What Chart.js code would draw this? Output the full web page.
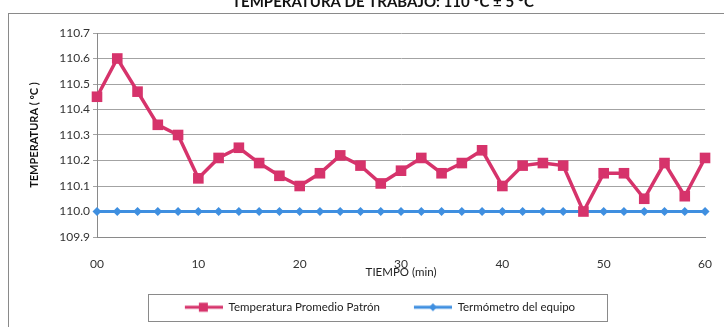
<!DOCTYPE html>
<html lang="es">
<head>
<meta charset="UTF-8" />
<title>Temperatura de trabajo</title>
<script src="https://cdn.jsdelivr.net/npm/chart.js"></script>
<style>
  html, body { margin: 0; padding: 0; background: #fff; }
</style>
</head>
<body>
<canvas id="grafico" width="724" height="327"></canvas>
<script>
// valores (cada 2 min)
const tiempo = [0, 2, 4, 6, 8, 10, 12, 14, 16, 18, 20, 22, 24, 26, 28, 30,
                32, 34, 36, 38, 40, 42, 44, 46, 48, 50, 52, 54, 56, 58, 60];
const patron = [110.45, 110.60, 110.47, 110.34, 110.30, 110.13, 110.21, 110.25, 110.19, 110.14, 110.10,
                110.15, 110.22, 110.18, 110.11, 110.16, 110.21, 110.15, 110.19, 110.24, 110.10,
                110.18, 110.19, 110.18, 110.00, 110.15, 110.15, 110.05, 110.19, 110.06, 110.21];
const equipo = [110.0, 110.0, 110.0, 110.0, 110.0, 110.0, 110.0, 110.0, 110.0, 110.0, 110.0,
                110.0, 110.0, 110.0, 110.0, 110.0, 110.0, 110.0, 110.0, 110.0, 110.0,
                110.0, 110.0, 110.0, 110.0, 110.0, 110.0, 110.0, 110.0, 110.0, 110.0];
const nombres = ['Temperatura Promedio Patrón', 'Termómetro del equipo'];
const titulo = 'TEMPERATURA DE TRABAJO: 110 °C ± 5 °C';
const tituloY = 'TEMPERATURA ( ºC )';
const tituloX = 'TIEMPO (min)';

const ROJO = '#d6336b';
const AZUL = '#3f8fe0';
const FUENTE = 'Lato, "DejaVu Sans", sans-serif';

// muestra de leyenda: linea con marcador
function muestra(color, forma) {
    const c = document.createElement('canvas');
    c.width = 62; c.height = 14;
    const g = c.getContext('2d');
    g.strokeStyle = color;
    g.lineWidth = 3;
    g.beginPath(); g.moveTo(24, 7); g.lineTo(62, 7); g.stroke();
    g.fillStyle = color;
    if (forma === 'rect') {
        g.fillRect(38, 2.5, 9, 9);
    } else {
        g.beginPath();
        g.moveTo(43, 3); g.lineTo(47, 7); g.lineTo(43, 11); g.lineTo(39, 7);
        g.closePath(); g.fill();
    }
    return c;
}
const muestras = [muestra(ROJO, 'rect'), muestra(AZUL, 'rectRot')];

// titulo cortado arriba, marco exterior y recuadro de la leyenda
const marco = {
    id: 'marco',
    beforeDraw(chart) {
        const ctx = chart.ctx;
        ctx.save();
        ctx.fillStyle = '#fff';
        ctx.fillRect(0, 0, chart.width, chart.height);
        ctx.strokeStyle = '#8a8a8a';
        ctx.lineWidth = 1;
        ctx.strokeRect(8.5, 13.5, chart.width + 20, chart.height + 20);
        ctx.fillStyle = '#111';
        ctx.font = 'bold 15px ' + FUENTE;
        ctx.textAlign = 'center';
        ctx.textBaseline = 'alphabetic';
        ctx.fillText(titulo, 383, 7);
        ctx.restore();
    },
    afterDraw(chart) {
        const hb = chart.legend.legendHitBoxes;
        if (!hb || !hb.length) return;
        const ctx = chart.ctx;
        const a = hb[0], b = hb[hb.length - 1];
        const x0 = Math.round(a.left - 13) + 0.5;
        const x1 = Math.round(b.left + b.width + 32) + 0.5;
        const y0 = Math.round(a.top - 8) + 0.5;
        const y1 = Math.round(a.top + a.height + 8) + 0.5;
        ctx.save();
        ctx.strokeStyle = '#8a8a8a';
        ctx.lineWidth = 1;
        ctx.strokeRect(x0, y0, x1 - x0, y1 - y0);
        ctx.restore();
    }
};

const ctx = document.getElementById('grafico').getContext('2d');
new Chart(ctx, {
    type: 'line',
    data: {
        datasets: [
            {
                label: nombres[0],
                data: tiempo.map((t, i) => ({ x: t, y: patron[i] })),
                borderColor: ROJO,
                backgroundColor: ROJO,
                borderWidth: 3.5,
                pointStyle: 'rect',
                pointRadius: 7.5,
                pointBorderWidth: 0,
                tension: 0,
                clip: false
            },
            {
                label: nombres[1],
                data: tiempo.map((t, i) => ({ x: t, y: equipo[i] })),
                borderColor: AZUL,
                backgroundColor: AZUL,
                borderWidth: 3,
                pointStyle: 'rectRot',
                pointRadius: 4.5,
                pointBorderWidth: 0,
                tension: 0,
                clip: false
            }
        ]
    },
    options: {
        responsive: false,
        animation: false,
        layout: { padding: { left: 28, right: 16, top: 33, bottom: 4 } },
        plugins: {
            title: { display: false },
            tooltip: { enabled: false },
            legend: {
                position: 'bottom',
                labels: {
                    usePointStyle: true,
                    pointStyleWidth: 62,
                    padding: 10,
                    color: '#222',
                    font: { family: FUENTE, size: 11.5 },
                    generateLabels(chart) {
                        const items = Chart.defaults.plugins.legend.labels.generateLabels(chart);
                        items.forEach((it, i) => { it.pointStyle = muestras[i]; });
                        return items;
                    }
                }
            }
        },
        scales: {
            x: {
                type: 'linear',
                min: 0,
                max: 60,
                grid: { display: false },
                border: { display: true, color: '#8a8a8a' },
                ticks: {
                    stepSize: 10,
                    padding: 12,
                    color: '#333',
                    font: { family: FUENTE, size: 12 },
                    callback: v => (v === 0 ? '00' : String(v))
                },
                title: {
                    display: true,
                    text: tituloX,
                    color: '#222',
                    font: { family: FUENTE, size: 11.5 },
                    padding: { top: 0, bottom: 12 }
                },
                afterFit(scale) { scale.height = 54.5; }
            },
            y: {
                min: 109.9,
                max: 110.7,
                grid: { color: '#a3a3a3', tickLength: 4, drawTicks: true },
                border: { display: true, color: '#8a8a8a' },
                ticks: {
                    stepSize: 0.1,
                    padding: 3,
                    color: '#333',
                    font: { family: FUENTE, size: 12 },
                    callback: v => Number(v).toFixed(1)
                },
                title: {
                    display: true,
                    text: tituloY,
                    color: '#111',
                    font: { family: FUENTE, size: 11, weight: 'bold' },
                    padding: { top: 0, bottom: 0 }
                },
                afterFit(scale) { scale.width = 69; }
            }
        }
    },
    plugins: [marco]
});
</script>
</body>
</html>
